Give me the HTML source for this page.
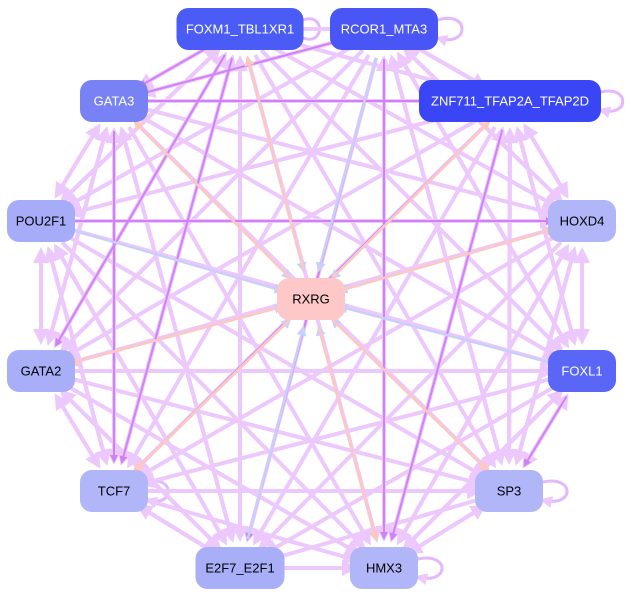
<!DOCTYPE html>
<html><head><meta charset="utf-8"><style>
html,body{margin:0;padding:0;background:#fff;width:631px;height:599px;overflow:hidden}
svg{display:block}
text{font-family:"Liberation Sans",sans-serif;font-size:13px;text-anchor:middle;dominant-baseline:central}
</style></head><body>
<svg id="s" width="631" height="599" viewBox="0 0 631 599" xmlns="http://www.w3.org/2000/svg">
<defs>
<marker id="a1" markerWidth="4" markerHeight="4" refX="3" refY="2" orient="auto"><path d="M0,0L4,2L0,4z" fill="#ecc8fc"/></marker>
<marker id="a2" markerWidth="4" markerHeight="4" refX="3" refY="2" orient="auto"><path d="M0,0L4,2L0,4z" fill="#d080f8"/></marker>
<marker id="a3" markerWidth="4" markerHeight="4" refX="3" refY="2" orient="auto"><path d="M0,0L4,2L0,4z" fill="#c8d0fa"/></marker>
<marker id="a4" markerWidth="4" markerHeight="4" refX="3" refY="2" orient="auto"><path d="M0,0L4,2L0,4z" fill="#fec8c0"/></marker>
</defs>
<g fill="none" stroke="#e4b8fc" stroke-width="3">
<path d="M438,20 C470,10 470,48 438,38" marker-end="url(#a1)"/>
<path d="M303,20 C325,12 325,46 303,38"/>
<path d="M601,92 C630,85 630,118 601,110" marker-end="url(#a1)"/>
<path d="M543,482 C575,475 575,508 543,500" marker-end="url(#a1)"/>
<path d="M418,559 C450,552 450,585 418,577" marker-end="url(#a1)"/>
<path d="M148,482 C175,475 175,508 148,500" marker-end="url(#a1)"/>
</g>
<g id="e"></g>
<g id="n"></g>
</svg>
<script>
var N=[
["FOXM1_TBL1XR1",240,29,127,"#4a5cf5","#fff"],
["RCOR1_MTA3",384,29,108,"#4a55f5","#fff"],
["GATA3",114,101,68,"#7882f5","#fff"],
["ZNF711_TFAP2A_TFAP2D",510,101,182,"#3a46f5","#fff"],
["POU2F1",41,221,68,"#a6acf8","#000"],
["HOXD4",582,221,68,"#b0b6f8","#000"],
["GATA2",41,371,68,"#a8aef8","#000"],
["FOXL1",582,371,68,"#5a66f5","#fff"],
["TCF7",114,491,68,"#b0b6f8","#000"],
["SP3",509,491,68,"#b0b6f8","#000"],
["E2F7_E2F1",240,568,89,"#a8aef8","#000"],
["HMX3",384,568,68,"#b0b6f8","#000"],
["RXRG",311,299,68,"#fec8c8","#000"]];
var ns="http://www.w3.org/2000/svg",E=document.getElementById("e"),G=document.getElementById("n");
function ln(a,b,c,w,m){var l=document.createElementNS(ns,"line");
var dx=b[1]-a[1],dy=b[2]-a[2],d=Math.hypot(dx,dy),k=30/d;
l.setAttribute("x1",a[1]+dx*k);l.setAttribute("y1",a[2]+dy*k);
l.setAttribute("x2",b[1]-dx*k);l.setAttribute("y2",b[2]-dy*k);
l.setAttribute("stroke",c);l.setAttribute("stroke-width",w);l.setAttribute("marker-end","url(#"+m+")");E.appendChild(l);}
var dark=[[0,2],[2,1],[0,6],[0,8],[1,11],[3,11],[7,9],[2,8],[1,10],[3,8],[4,5],[2,3]];
for(var i=0;i<12;i++)for(var j=0;j<12;j++){if(i!=j&&(i+j)%2==0||(i<j&&(i+j)%2==1)){ln(N[i],N[j],"#ecc8fc",4,"a1");}}
dark.forEach(function(p){ln(N[p[0]],N[p[1]],"#d080f8",2,"a2");});
for(var i=0;i<12;i++){ln(N[i],N[12],"#c8d0fa",2.5,"a3");if(i%3!=1)ln(N[12],N[i],"#fec8c0",2.5,"a4");}
N.forEach(function(n){var r=document.createElementNS(ns,"rect");
r.setAttribute("x",n[1]-n[3]/2);r.setAttribute("y",n[2]-21);r.setAttribute("width",n[3]);r.setAttribute("height",42);
r.setAttribute("rx",12);r.setAttribute("fill",n[4]);G.appendChild(r);
var t=document.createElementNS(ns,"text");t.setAttribute("x",n[1]);t.setAttribute("y",n[2]);t.setAttribute("fill",n[5]);t.textContent=n[0];G.appendChild(t);});
</script>
</body></html>
